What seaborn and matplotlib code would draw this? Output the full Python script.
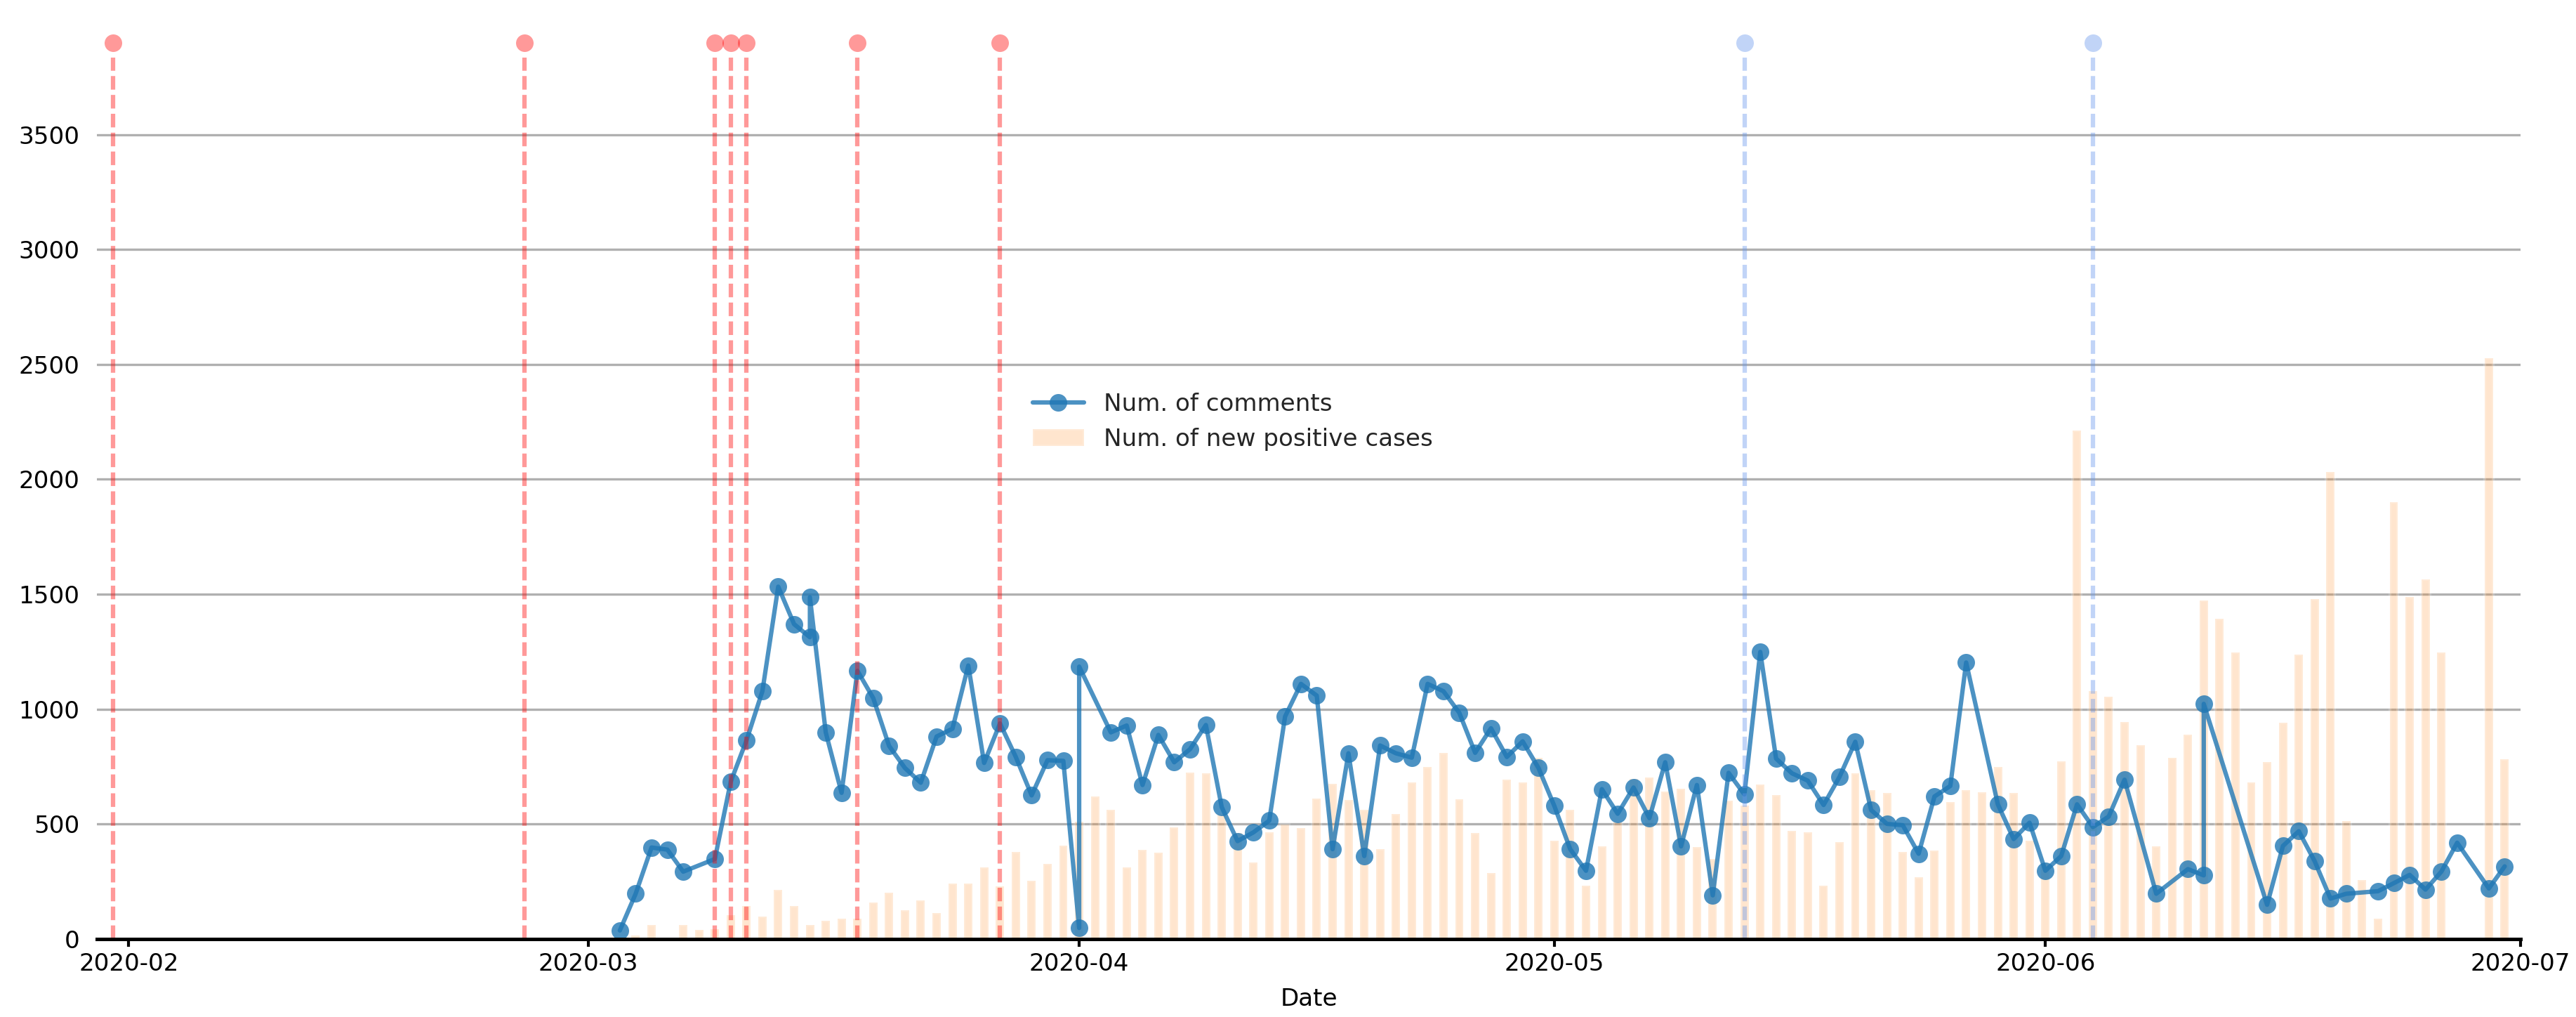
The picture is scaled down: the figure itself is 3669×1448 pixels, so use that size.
import numpy as np
import pandas as pd
import matplotlib
matplotlib.use("Agg")
import matplotlib.pyplot as plt
import matplotlib.dates as mdates
import seaborn as sns

# Daily number of comments (some days appear twice in the source data)
comment_dates = [
    "2020-03-03", "2020-03-04", "2020-03-05", "2020-03-06", "2020-03-07",
    "2020-03-09", "2020-03-10", "2020-03-11", "2020-03-12", "2020-03-13",
    "2020-03-14", "2020-03-15", "2020-03-15", "2020-03-16", "2020-03-17",
    "2020-03-18", "2020-03-19", "2020-03-20", "2020-03-21", "2020-03-22",
    "2020-03-23", "2020-03-24", "2020-03-25", "2020-03-26", "2020-03-27",
    "2020-03-28", "2020-03-29", "2020-03-30", "2020-03-31", "2020-04-01",
    "2020-04-01", "2020-04-03", "2020-04-04", "2020-04-05", "2020-04-06",
    "2020-04-07", "2020-04-08", "2020-04-09", "2020-04-10", "2020-04-11",
    "2020-04-12", "2020-04-13", "2020-04-14", "2020-04-15", "2020-04-16",
    "2020-04-17", "2020-04-18", "2020-04-19", "2020-04-20", "2020-04-21",
    "2020-04-22", "2020-04-23", "2020-04-24", "2020-04-25", "2020-04-26",
    "2020-04-27", "2020-04-28", "2020-04-29", "2020-04-30", "2020-05-01",
    "2020-05-02", "2020-05-03", "2020-05-04", "2020-05-05", "2020-05-06",
    "2020-05-07", "2020-05-08", "2020-05-09", "2020-05-10", "2020-05-11",
    "2020-05-12", "2020-05-13", "2020-05-14", "2020-05-15", "2020-05-16",
    "2020-05-17", "2020-05-18", "2020-05-19", "2020-05-20", "2020-05-21",
    "2020-05-22", "2020-05-23", "2020-05-24", "2020-05-25", "2020-05-26",
    "2020-05-27", "2020-05-29", "2020-05-30", "2020-05-31", "2020-06-01",
    "2020-06-02", "2020-06-03", "2020-06-04", "2020-06-05", "2020-06-06",
    "2020-06-08", "2020-06-10", "2020-06-11", "2020-06-11", "2020-06-15",
    "2020-06-16", "2020-06-17", "2020-06-18", "2020-06-19", "2020-06-20",
    "2020-06-22", "2020-06-23", "2020-06-24", "2020-06-25", "2020-06-26",
    "2020-06-27", "2020-06-29", "2020-06-30",
]
comment_counts = [
    37, 197, 398, 389, 293,
    348, 684, 865, 1078, 1533,
    1370, 1313, 1487, 899, 636,
    1167, 1048, 840, 744, 680,
    881, 915, 1190, 766, 938,
    792, 625, 778, 775, 48,
    1185, 899, 929, 670, 888,
    769, 826, 931, 574, 426,
    464, 515, 968, 1110, 1059,
    391, 808, 361, 842, 808,
    789, 1110, 1078, 984, 810,
    917, 792, 860, 744, 579,
    391, 297, 652, 545, 659,
    526, 769, 403, 670, 190,
    723, 629, 1249, 785, 721,
    689, 583, 705, 858, 561,
    501, 495, 371, 620, 666,
    1203, 586, 435, 506, 297,
    361, 586, 487, 533, 693,
    197, 304, 277, 1023, 149,
    405, 469, 339, 176, 197,
    208, 243, 279, 215, 293,
    419, 220, 316,
]

# Daily number of new positive cases, 2020-03-04 .. 2020-06-30
case_start = "2020-03-04"
case_counts = [
    14, 60, 0, 60, 41, 43, 105, 144, 98, 215,
    144, 60, 80, 87, 89, 160, 201, 124, 169, 112,
    240, 240, 313, 229, 378, 252, 327, 405, 510, 620,
    563, 311, 387, 375, 485, 725, 721, 545, 460, 332,
    464, 497, 483, 611, 675, 604, 563, 391, 545, 682,
    748, 810, 609, 460, 286, 693, 680, 789, 428, 563,
    233, 403, 510, 698, 702, 643, 654, 400, 348, 602,
    580, 673, 625, 471, 464, 233, 421, 721, 647, 636,
    378, 270, 384, 595, 648, 638, 748, 636, 428, 330,
    773, 2212, 1078, 1055, 945, 842, 403, 789, 888, 1473,
    1393, 1247, 682, 769, 940, 1238, 1478, 2032, 513, 256,
    87, 1901, 1487, 1565, 1247, 0, 0, 2528, 782,
]

# Event markers
red_events = ["2020-01-31", "2020-02-26", "2020-03-09", "2020-03-10",
              "2020-03-11", "2020-03-18", "2020-03-27"]
blue_events = ["2020-05-13", "2020-06-04"]

comment_x = pd.to_datetime(comment_dates)
case_x = pd.date_range(case_start, periods=len(case_counts), freq="D")
red_x = pd.to_datetime(red_events)
blue_x = pd.to_datetime(blue_events)

sns.set_style("white")
plt.rcParams["font.family"] = ["DejaVu Sans"]
plt.rcParams["font.size"] = 8.2

fig = plt.figure(figsize=(3670 / 300, 1448 / 300), dpi=300)
ax = fig.add_axes([0.0377, 0.0767, 0.9405, 0.9026])

ax.bar(case_x, case_counts, width=0.53, color="C1", alpha=0.2,
       label="Num. of new positive cases")

sns.lineplot(x=comment_x, y=comment_counts, ax=ax, estimator=None, sort=False,
             marker="o", markersize=6, markeredgewidth=0, color="C0",
             alpha=0.8, linewidth=1.5, label="Num. of comments", legend=False)

marker_level = 3900
line_top = 3835
dash = (0, (3.1, 1.2))
ax.vlines(red_x, 0, line_top, colors="red", alpha=0.4, linewidth=1.5,
          linestyles=dash)
ax.vlines(blue_x, 0, line_top, colors="cornflowerblue", alpha=0.4,
          linewidth=1.5, linestyles=dash)
sns.scatterplot(x=red_x, y=[marker_level] * len(red_x), ax=ax, color="red",
                alpha=0.4, s=36, linewidth=0, legend=False)
sns.scatterplot(x=blue_x, y=[marker_level] * len(blue_x), ax=ax,
                color="cornflowerblue", alpha=0.4, s=36, linewidth=0,
                legend=False)

ax.set_xlim(pd.Timestamp("2020-01-30"), pd.Timestamp("2020-07-01"))
ax.set_ylim(0, 3994)
ax.set_yticks(np.arange(0, 4000, 500))
ax.xaxis.set_major_locator(mdates.MonthLocator())
ax.xaxis.set_major_formatter(mdates.DateFormatter("%Y-%m"))

ax.yaxis.grid(True, color="#b0b0b0", linewidth=0.8)
ax.xaxis.grid(False)
for side in ["top", "right", "left"]:
    ax.spines[side].set_visible(False)
ax.spines["bottom"].set_color("black")
ax.spines["bottom"].set_linewidth(1.2)
ax.tick_params(axis="y", length=0, pad=6, colors="black")
ax.tick_params(axis="x", bottom=True, length=2.6, width=1, pad=2,
               colors="black")

ax.set_xlabel("Date", color="black", labelpad=4)
ax.set_ylabel("")

handles, labels = ax.get_legend_handles_labels()
ax.legend(handles, labels, loc="center left", bbox_to_anchor=(0.3771, 0.5632),
          frameon=False, handlelength=2.15)

fig.savefig("out.png", dpi=300)
